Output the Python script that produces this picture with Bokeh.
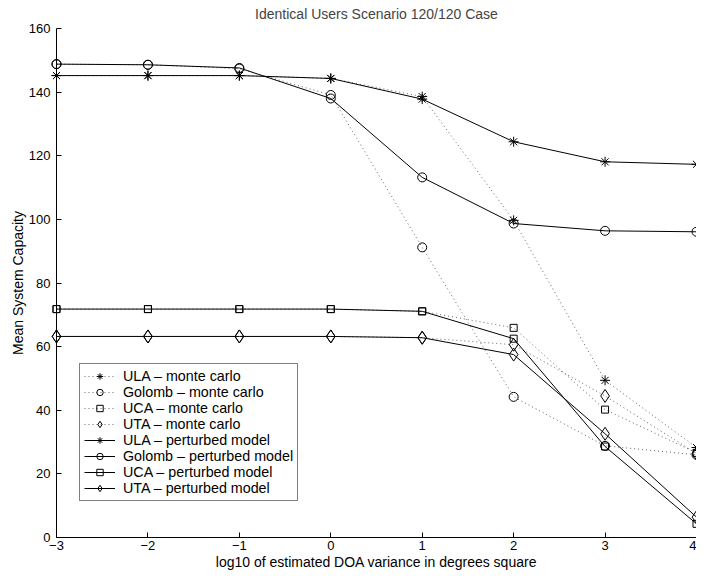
from bokeh.plotting import figure
from bokeh.models import Range1d, FixedTicker, Legend, LegendItem
from bokeh.embed import file_html
from bokeh.resources import INLINE

x = [-3, -2, -1, 0, 1, 2, 3, 4]
ula_mc = [145.2, 145.2, 145.2, 144.3, 138.6, 99.7, 49.4, 28.3]
golomb_mc = [148.8, 148.6, 147.4, 139.1, 91.2, 44.2, 28.8, 26.0]
uca_mc = [71.8, 71.8, 71.8, 71.8, 71.1, 65.9, 40.2, 26.6]
uta_mc = [63.2, 63.2, 63.2, 63.2, 62.8, 60.6, 44.5, 26.4]
ula_pm = [145.2, 145.2, 145.2, 144.3, 137.8, 124.4, 118.1, 117.3]
golomb_pm = [148.8, 148.6, 147.6, 138.0, 113.2, 98.7, 96.4, 96.1]
uca_pm = [71.8, 71.8, 71.8, 71.8, 71.1, 62.5, 28.6, 4.3]
uta_pm = [63.2, 63.2, 63.2, 63.2, 62.8, 57.5, 32.6, 6.4]

x_ticks = [-3, -2, -1, 0, 1, 2, 3, 4]
y_ticks = [0, 20, 40, 60, 80, 100, 120, 140, 160]
title_text = "Identical Users Scenario 120/120 Case"

FONT = "Liberation Sans"

p = figure(width=696, height=572, output_backend="svg", toolbar_location=None,
           x_range=Range1d(-3, 4), y_range=Range1d(0, 160),
           min_border_left=56, min_border_right=0, min_border_top=28, min_border_bottom=35,
           title=title_text)
p.title.align = "center"
p.title.vertical_align = "top"
p.title.text_font = FONT
p.title.text_font_size = "14px"
p.title.text_font_style = "normal"
p.title.standoff = 10
p.outline_line_color = None
p.xgrid.visible = False
p.ygrid.visible = False
p.background_fill_color = "white"
p.border_fill_color = "white"

p.xaxis.ticker = FixedTicker(ticks=x_ticks)
p.yaxis.ticker = FixedTicker(ticks=y_ticks)
p.xaxis.major_label_overrides = {t: (str(t).replace("-", "\u2212")) for t in x_ticks}
for ax in (p.xaxis[0], p.yaxis[0]):
    ax.major_tick_in = 5
    ax.major_tick_out = 0
    ax.minor_tick_line_color = None
    ax.axis_line_color = "black"
    ax.major_tick_line_color = "black"
    ax.major_label_text_font = FONT
    ax.major_label_text_font_size = "13px"
    ax.major_label_text_color = "black"
    ax.axis_label_text_font = FONT
    ax.axis_label_text_font_size = "14px"
    ax.axis_label_text_font_style = "normal"
    ax.axis_label_text_color = "black"
p.xaxis.major_label_standoff = 3
p.yaxis.major_label_standoff = 6
p.xaxis.axis_label = "log10 of estimated DOA variance in degrees square"
p.yaxis.axis_label = "Mean System Capacity"
p.xaxis.axis_label_standoff = 1
p.yaxis.axis_label_standoff = 0

series = [
    ("ULA \u2013 monte carlo", ula_mc, "asterisk", 10, True),
    ("Golomb \u2013 monte carlo", golomb_mc, "circle", 9, True),
    ("UCA \u2013 monte carlo", uca_mc, "square", 7, True),
    ("UTA \u2013 monte carlo", uta_mc, "diamond", 13, True),
    ("ULA \u2013 perturbed model", ula_pm, "asterisk", 10, False),
    ("Golomb \u2013 perturbed model", golomb_pm, "circle", 9, False),
    ("UCA \u2013 perturbed model", uca_pm, "square", 7, False),
    ("UTA \u2013 perturbed model", uta_pm, "diamond", 13, False),
]

items = []
for label, ys, marker, size, dotted in series:
    if dotted:
        ln = p.line(x, ys, line_color="#666666", line_width=1, line_dash="1 3")
    else:
        ln = p.line(x, ys, line_color="black", line_width=1)
    sc = p.scatter(x, ys, marker=marker, size=size, fill_color=None,
                   line_color="black", line_width=1)
    sc.level = "overlay"
    items.append(LegendItem(label=label, renderers=[ln, sc]))

legend = Legend(items=items, location=(23, 36))
legend.border_line_color = "black"
legend.border_line_width = 1
legend.background_fill_color = "white"
legend.background_fill_alpha = 1
legend.label_text_font = FONT
legend.label_text_font_size = "14.3px"
legend.label_text_color = "black"
legend.glyph_width = 31
legend.glyph_height = 16
legend.label_height = 16
legend.spacing = 0
legend.padding = 4
legend.margin = 0
legend.label_standoff = 8
p.add_layout(legend, "center")

open("out.html", "w").write(file_html(p, INLINE))
